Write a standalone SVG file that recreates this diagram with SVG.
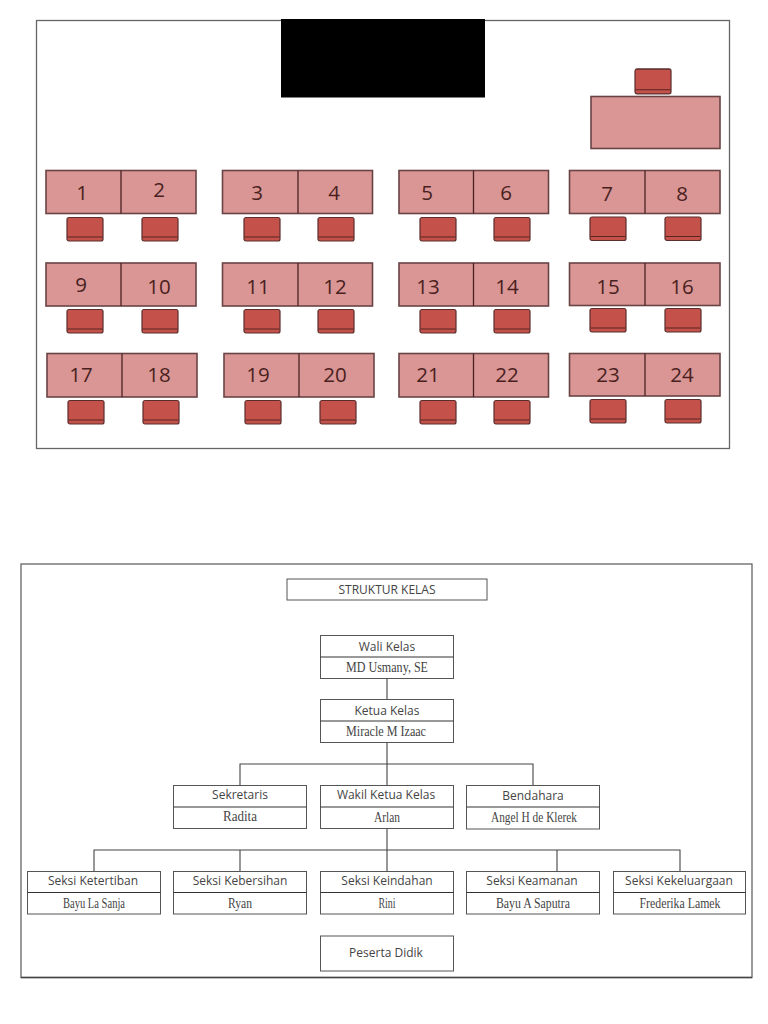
<svg xmlns="http://www.w3.org/2000/svg" width="768" height="1024" viewBox="0 0 768 1024">
<style>
.frame{fill:#fff;stroke:#666;stroke-width:1.3}
.desk{fill:#d99694;stroke:#6a4444;stroke-width:1.6}
.div{stroke:#4a2222;stroke-width:1.3}
.num{font-family:"Open Sans","Liberation Sans",sans-serif;font-size:20.5px;fill:#4a1f1f;text-anchor:middle}
.box{fill:#fff;stroke:#555;stroke-width:1}
.sep{stroke:#333;stroke-width:1}
.lab{font-family:"Open Sans","Liberation Sans",sans-serif;font-size:12px;fill:#444;text-anchor:middle}
.nam{font-family:"Liberation Serif",serif;font-size:14px;fill:#444;text-anchor:middle}
.con{fill:none;stroke:#444;stroke-width:1.1}
</style>
<defs>
<g id="chair">
<rect x="0" y="0" width="36" height="23.500" rx="2" fill="#c4524a" stroke="#5a2e2c" stroke-width="1.200"/>
<line x1="0.500" y1="19.500" x2="35.500" y2="19.500" stroke="#5a2420" stroke-width="1"/>
</g>
</defs>
<rect class="frame" x="36.500" y="20.500" width="693" height="428"/>
<rect id="board" x="281" y="19" width="204" height="78.500" fill="#000"/>
<g id="teacher">
<use href="#chair" transform="translate(635 69) scale(1 1.060)"/>
<rect class="desk" x="591" y="96.500" width="129" height="52"/>
</g>
<g id="seats">
<g id="row1">
<rect class="desk" x="46" y="170.500" width="150" height="43"/><line class="div" x1="121" y1="170.500" x2="121" y2="213.500"/>
<rect class="desk" x="222.500" y="170.500" width="150" height="43"/><line class="div" x1="298" y1="170.500" x2="298" y2="213.500"/>
<rect class="desk" x="399" y="170.500" width="149.500" height="43"/><line class="div" x1="473.500" y1="170.500" x2="473.500" y2="213.500"/>
<rect class="desk" x="569.500" y="170.500" width="150.500" height="43"/><line class="div" x1="645" y1="170.500" x2="645" y2="213.500"/>
<text class="num" x="82" y="200">1</text><text class="num" x="159" y="197">2</text><text class="num" x="257" y="200">3</text><text class="num" x="334" y="200">4</text><text class="num" x="427" y="200">5</text><text class="num" x="506" y="200">6</text><text class="num" x="607" y="201">7</text><text class="num" x="682" y="201">8</text>
<use href="#chair" x="67" y="217.500"/><use href="#chair" x="142" y="217.500"/><use href="#chair" x="244" y="217.500"/><use href="#chair" x="318" y="217.500"/><use href="#chair" x="420" y="217.500"/><use href="#chair" x="494" y="217.500"/><use href="#chair" x="590" y="217"/><use href="#chair" x="665" y="217"/>
</g>
<g id="row2">
<rect class="desk" x="46" y="263" width="150" height="43"/><line class="div" x1="121" y1="263" x2="121" y2="306"/>
<rect class="desk" x="222.500" y="263" width="150" height="43"/><line class="div" x1="298" y1="263" x2="298" y2="306"/>
<rect class="desk" x="399" y="263" width="149.500" height="43"/><line class="div" x1="473.500" y1="263" x2="473.500" y2="306"/>
<rect class="desk" x="569.500" y="263" width="150.500" height="42.500"/><line class="div" x1="645" y1="263" x2="645" y2="305.500"/>
<text class="num" x="81" y="292">9</text><text class="num" x="159" y="294">10</text><text class="num" x="258" y="294">11</text><text class="num" x="335" y="294">12</text><text class="num" x="428" y="294">13</text><text class="num" x="507" y="294">14</text><text class="num" x="608" y="294">15</text><text class="num" x="682" y="294">16</text>
<use href="#chair" x="67" y="309.500"/><use href="#chair" x="142" y="309.500"/><use href="#chair" x="244" y="309.500"/><use href="#chair" x="318" y="309.500"/><use href="#chair" x="420" y="309.500"/><use href="#chair" x="494" y="309.500"/><use href="#chair" x="590" y="308.500"/><use href="#chair" x="665" y="308.500"/>
</g>
<g id="row3">
<rect class="desk" x="47" y="353.500" width="150" height="43.500"/><line class="div" x1="122" y1="353.500" x2="122" y2="397"/>
<rect class="desk" x="224" y="353.500" width="150" height="43.500"/><line class="div" x1="299" y1="353.500" x2="299" y2="397"/>
<rect class="desk" x="399" y="353.500" width="149.500" height="43.500"/><line class="div" x1="473.500" y1="353.500" x2="473.500" y2="397"/>
<rect class="desk" x="569.500" y="353.500" width="150.500" height="42.500"/><line class="div" x1="645" y1="353.500" x2="645" y2="396"/>
<text class="num" x="81" y="382">17</text><text class="num" x="159" y="382">18</text><text class="num" x="258" y="382">19</text><text class="num" x="335" y="382">20</text><text class="num" x="428" y="382">21</text><text class="num" x="507" y="382">22</text><text class="num" x="608" y="382">23</text><text class="num" x="682" y="382">24</text>
<use href="#chair" x="68" y="400.500"/><use href="#chair" x="143" y="400.500"/><use href="#chair" x="245" y="400.500"/><use href="#chair" x="320" y="400.500"/><use href="#chair" x="420" y="400.500"/><use href="#chair" x="494" y="400.500"/><use href="#chair" x="590" y="399.500"/><use href="#chair" x="665" y="399.500"/>
</g>
</g>
<rect class="frame" x="21" y="564" width="731" height="413.500"/>
<line x1="21" y1="977.500" x2="752" y2="977.500" stroke="#444" stroke-width="1.500"/>
<g id="connectors">
<path class="con" d="M387 678V699M387 742V785M387 828V871M240 785V764H533V785M94 871V850H680V871M240 850V871M557 850V871"/>
</g>
<g id="struktur"><rect class="box" x="287" y="579" width="200" height="21"/><text class="lab" x="387" y="594">STRUKTUR KELAS</text></g>
<g id="wali"><rect class="box" x="320.500" y="635.500" width="133" height="43"/><line class="sep" x1="320.500" y1="657" x2="453.500" y2="657" stroke-width="1.500"/><text class="lab" x="387" y="651">Wali Kelas</text><text class="nam" x="387" y="672" textLength="82" lengthAdjust="spacingAndGlyphs">MD Usmany, SE</text></g>
<g id="ketua"><rect class="box" x="320.500" y="699.500" width="133" height="43"/><line class="sep" x1="320.500" y1="721" x2="453.500" y2="721"/><text class="lab" x="387" y="715">Ketua Kelas</text><text class="nam" x="386" y="736" textLength="80" lengthAdjust="spacingAndGlyphs">Miracle M Izaac</text></g>
<g id="sekretaris"><rect class="box" x="173.500" y="785.500" width="133" height="43"/><line class="sep" x1="173.500" y1="807" x2="306.500" y2="807"/><text class="lab" x="240" y="799">Sekretaris</text><text class="nam" x="240" y="821" textLength="34" lengthAdjust="spacingAndGlyphs">Radita</text></g>
<g id="wakil"><rect class="box" x="320.500" y="785.500" width="133" height="43"/><line class="sep" x1="320.500" y1="807" x2="453.500" y2="807"/><text class="lab" x="386" y="799">Wakil Ketua Kelas</text><text class="nam" x="387" y="822" textLength="26" lengthAdjust="spacingAndGlyphs">Arlan</text></g>
<g id="bendahara"><rect class="box" x="466.500" y="785.500" width="133" height="43.500"/><line class="sep" x1="466.500" y1="807" x2="599.500" y2="807" stroke-width="1.500"/><text class="lab" x="533" y="800">Bendahara</text><text class="nam" x="534" y="822" textLength="86" lengthAdjust="spacingAndGlyphs">Angel H de Klerek</text></g>
<g id="ketertiban"><rect class="box" x="27.500" y="871.500" width="133" height="42.500"/><line class="sep" x1="27.500" y1="892.500" x2="160.500" y2="892.500"/><text class="lab" x="93" y="885">Seksi Ketertiban</text><text class="nam" x="94" y="908" textLength="62" lengthAdjust="spacingAndGlyphs">Bayu La Sanja</text></g>
<g id="kebersihan"><rect class="box" x="173.500" y="871.500" width="133" height="42.500"/><line class="sep" x1="173.500" y1="892.500" x2="306.500" y2="892.500"/><text class="lab" x="240" y="885">Seksi Kebersihan</text><text class="nam" x="240" y="908" textLength="24" lengthAdjust="spacingAndGlyphs">Ryan</text></g>
<g id="keindahan"><rect class="box" x="320.500" y="871.500" width="133" height="42.500"/><line class="sep" x1="320.500" y1="892.500" x2="453.500" y2="892.500"/><text class="lab" x="387" y="885">Seksi Keindahan</text><text class="nam" x="387" y="908" textLength="17" lengthAdjust="spacingAndGlyphs">Rini</text></g>
<g id="keamanan"><rect class="box" x="466.500" y="871.500" width="133" height="42.500"/><line class="sep" x1="466.500" y1="892.500" x2="599.500" y2="892.500"/><text class="lab" x="532" y="885">Seksi Keamanan</text><text class="nam" x="533" y="908" textLength="74" lengthAdjust="spacingAndGlyphs">Bayu A Saputra</text></g>
<g id="kekeluargaan"><rect class="box" x="613.500" y="871.500" width="132" height="42.500"/><line class="sep" x1="613.500" y1="892.500" x2="745.500" y2="892.500"/><text class="lab" x="679" y="885">Seksi Kekeluargaan</text><text class="nam" x="680" y="908" textLength="81" lengthAdjust="spacingAndGlyphs">Frederika Lamek</text></g>
<g id="peserta"><rect class="box" x="320.500" y="936" width="133" height="35"/><text class="lab" x="386" y="957">Peserta Didik</text></g>
</svg>
